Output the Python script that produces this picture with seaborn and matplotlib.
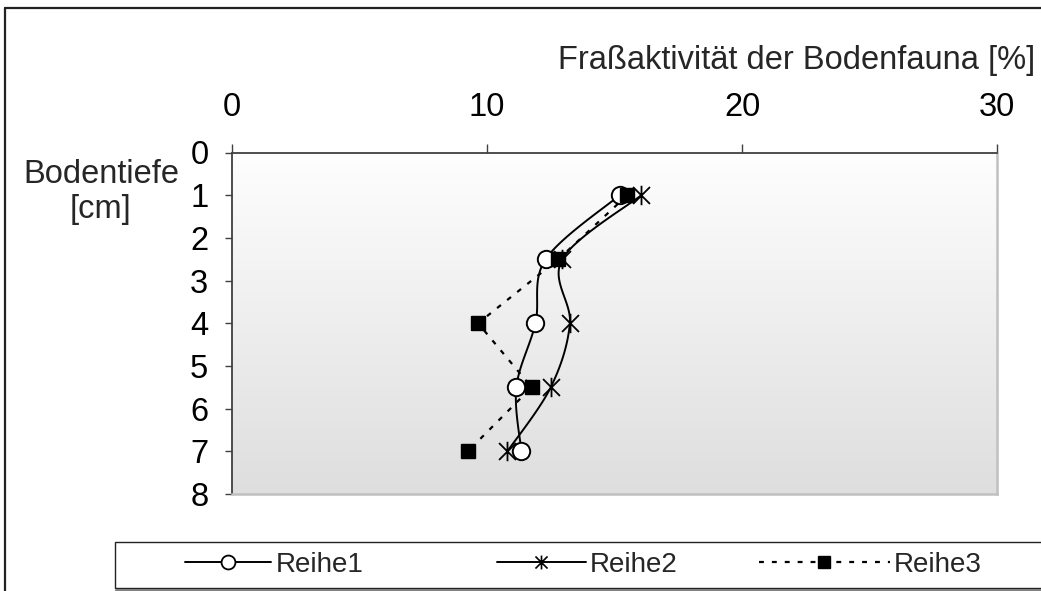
import numpy as np
import pandas as pd
import matplotlib
matplotlib.use("Agg")
import matplotlib.pyplot as plt
from matplotlib.path import Path
from matplotlib.lines import Line2D
from matplotlib.patches import Rectangle
import seaborn as sns

# Soil depth [cm] and feeding activity of the soil fauna [%]
depth = [1, 2.5, 4, 5.5, 7]
reihe1 = [15.2, 12.3, 11.9, 11.15, 11.35]
reihe2 = [16.05, 12.95, 13.25, 12.5, 10.8]
reihe3 = [15.5, 12.8, 9.65, 11.75, 9.25]
series_names = ["Reihe1", "Reihe2", "Reihe3"]
x_ticks = [0, 10, 20, 30]
y_ticks = [0, 1, 2, 3, 4, 5, 6, 7, 8]

sns.set_theme(style="white")
plt.rcParams["font.family"] = ["Liberation Sans", "DejaVu Sans"]
FS = 23.5      # tick labels and axis titles
FS_LEG = 20    # legend

W, H = 1041, 591
fig = plt.figure(figsize=(W / 100, H / 100), dpi=100)
ax = fig.add_axes([232 / W, 1 - 494 / H, (997 - 232) / W, (494 - 152.5) / H])

ax.set_xlim(0, 30)
ax.set_ylim(8, 0)

# vertical grey gradient behind the plot area
grad = np.linspace(0, 1, 256).reshape(-1, 1)
ax.imshow(grad, extent=(0, 30, 8, 0), aspect="auto",
          cmap=matplotlib.colors.LinearSegmentedColormap.from_list(
              "bg", ["#fefefe", "#dedede"]),
          zorder=0, interpolation="bicubic")


def smooth(xs, ys, n=30):
    """Cubic Bezier smoothing through the points (Catmull-Rom tangents)."""
    P = np.column_stack([xs, ys]).astype(float)
    ext = np.vstack([P[0], P, P[-1]])
    out = []
    t = np.linspace(0, 1, n)[:, None]
    for i in range(len(P) - 1):
        p0, p3 = ext[i + 1], ext[i + 2]
        c1 = p0 + (ext[i + 2] - ext[i]) / 6
        c2 = p3 - (ext[i + 3] - ext[i + 1]) / 6
        seg = ((1 - t) ** 3) * p0 + 3 * ((1 - t) ** 2) * t * c1 \
            + 3 * (1 - t) * t ** 2 * c2 + t ** 3 * p3
        out.append(seg if i == 0 else seg[1:])
    out = np.vstack(out)
    return out[:, 0], out[:, 1]


# asterisk marker: x with a vertical bar
star = Path([(-1, -1), (1, 1), (-1, 1), (1, -1), (0, -1.15), (0, 1.15)],
            [Path.MOVETO, Path.LINETO, Path.MOVETO, Path.LINETO,
             Path.MOVETO, Path.LINETO])

LW = 1.4
DOTS = (0, (2.2, 3.6))
for vals in (reihe1, reihe2):
    sx, sy = smooth(vals, depth)
    sns.lineplot(x=sx, y=sy, sort=False, estimator=None, color="black",
                 lw=LW, ax=ax, zorder=3)

df3 = pd.DataFrame({"x": reihe3, "y": depth})
sns.lineplot(data=df3, x="x", y="y", sort=False, estimator=None,
             color="black", lw=1.6, linestyle=DOTS, ax=ax, zorder=3)

ax.plot(reihe1, depth, ls="none", marker="o", ms=12.5, mfc="white",
        mec="black", mew=1.4, zorder=5)
ax.plot(reihe2, depth, ls="none", marker=star, ms=14, mfc="none",
        mec="black", mew=1.3, zorder=5)
ax.plot(reihe3, depth, ls="none", marker="s", ms=10.5, mfc="black",
        mec="black", zorder=6)

# axes styling
ax.xaxis.tick_top()
ax.set_xticks(x_ticks)
ax.set_yticks(y_ticks)
ax.set_xticklabels([str(v) for v in x_ticks])
ax.set_yticklabels([str(v) for v in y_ticks])
ax.tick_params(axis="x", which="both", top=True, bottom=False, direction="out",
               length=6.5, width=1, color="#404040", pad=15, labelsize=FS,
               labelcolor="black")
ax.tick_params(axis="y", left=True, direction="out", length=5, width=1,
               color="#404040", pad=12, labelsize=FS, labelcolor="black")
ax.set_xlabel("")
ax.set_ylabel("")
for side in ("top", "left"):
    ax.spines[side].set_color("#404040")
    ax.spines[side].set_linewidth(1.3)
for side in ("right", "bottom"):
    ax.spines[side].set_color("#c0c0c0")
    ax.spines[side].set_linewidth(1.8)

fig.text(1035 / W, 1 - 60 / H, "Fraßaktivität der Bodenfauna [%]",
         ha="right", va="center", fontsize=FS)
fig.text(101 / W, 1 - 192 / H, "Bodentiefe\n[cm]", ha="center",
         va="center", fontsize=FS, linespacing=1.2,
         multialignment="center")

# chart border
fig.add_artist(Line2D([5 / W, 1.01], [1 - 8 / H, 1 - 8 / H], color="#222222",
                      lw=1.6, transform=fig.transFigure))
fig.add_artist(Line2D([5 / W, 5 / W], [-0.01, 1 - 8 / H], color="#222222",
                      lw=1.6, transform=fig.transFigure))

# legend frame
fig.add_artist(Rectangle((115 / W, 1 - 588 / H), (W + 10 - 115) / W,
                         (588 - 542) / H, transform=fig.transFigure,
                         facecolor="white", edgecolor="#222222", lw=1.0,
                         zorder=1))
fig.add_artist(Line2D([116 / W, 1.01], [1 - 589.5 / H, 1 - 589.5 / H],
                      color="#808080", lw=2.2, transform=fig.transFigure,
                      zorder=2))

handles = [
    Line2D([], [], color="black", lw=LW, marker="o", ms=10, mfc="white",
           mec="black", mew=1.3),
    Line2D([], [], color="black", lw=LW, marker=star, ms=10, mec="black",
           mew=1.2),
    Line2D([], [], color="black", lw=1.6, linestyle=DOTS, marker="s",
           ms=9, mfc="black", mec="black"),
]
starts = [185, 497, 759]
hlens = [3.1, 3.2, 4.7]
for h, name, x0, hl in zip(handles, series_names, starts, hlens):
    leg = fig.legend([h], [name], loc="center left",
                     bbox_to_anchor=(x0 / W, 1 - 565 / H), frameon=False,
                     fontsize=FS_LEG, handlelength=hl, handletextpad=0.15,
                     borderpad=0, borderaxespad=0)
    leg.set_zorder(3)

fig.savefig("out.png", dpi=100)
